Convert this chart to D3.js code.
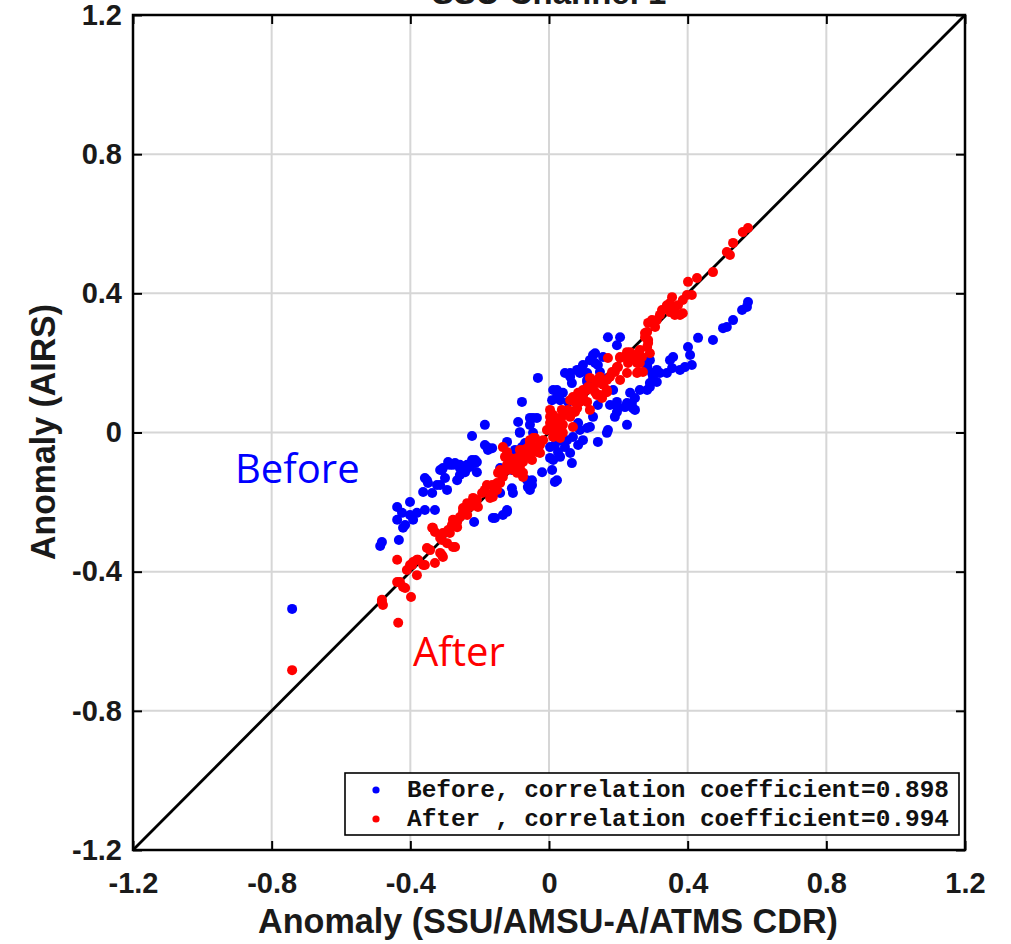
<!DOCTYPE html>
<html>
<head>
<meta charset="utf-8">
<script src="https://cdn.jsdelivr.net/npm/d3@7"></script>
<style>
  html, body { margin: 0; padding: 0; background: #fff; }
  svg { display: block; }
</style>
</head>
<body>
<svg id="chart" width="1011" height="944"></svg>
<script>
// ---------------- DATA ----------------
const titleText = "SSU Channel 1";
const xLabel = "Anomaly (SSU/AMSU-A/ATMS CDR)";
const yLabel = "Anomaly (AIRS)";
const tickValues = [-1.2, -0.8, -0.4, 0, 0.4, 0.8, 1.2];
const tickLabels = ["-1.2", "-0.8", "-0.4", "0", "0.4", "0.8", "1.2"];
const seriesNames = ["Before", "After"];
const legendLabels = ["Before, correlation coefficient=0.898", "After , correlation coefficient=0.994"];

// Before (blue) [x, y]
const beforePoints = [
[-0.741,-0.507],
[-0.482,-0.315],[-0.487,-0.326],[-0.433,-0.309],[-0.438,-0.214],[-0.438,-0.251],[-0.424,-0.231],
[-0.415,-0.266],[-0.421,-0.274],[-0.401,-0.200],[-0.401,-0.237],[-0.392,-0.251],[-0.381,-0.231],
[-0.358,-0.223],[-0.363,-0.171],[-0.349,-0.145],[-0.337,-0.174],[-0.329,-0.223],[-0.314,-0.151],
[-0.300,-0.131],[-0.294,-0.165],[-0.306,-0.102],[-0.286,-0.093],[-0.271,-0.088],[-0.265,-0.137],
[-0.257,-0.122],[-0.242,-0.114],[-0.228,-0.099],[-0.213,-0.088],[-0.208,-0.114],[-0.216,-0.257],
[-0.162,-0.246],[-0.133,-0.237],[-0.121,-0.223],[-0.104,-0.174],[-0.107,-0.160],[-0.049,-0.151],
[-0.055,-0.165],[-0.020,-0.114],[0.017,-0.142],[-0.063,-0.137],[-0.185,0.022],[-0.222,-0.010],
[-0.185,-0.036],[-0.176,-0.050],[-0.121,-0.027],[-0.084,-0.001],[-0.046,-0.001],[-0.055,0.022],
[-0.291,-0.085],[-0.257,-0.102],[-0.236,-0.093],[-0.222,-0.079],[-0.208,-0.085],[-0.309,-0.108],
[-0.352,-0.137],[-0.323,-0.151],
[0.170,0.274],[0.205,0.274],[0.196,0.251],[0.127,0.223],[0.156,0.217],[0.133,0.200],[0.098,0.194],
[0.081,0.180],[0.061,0.171],[0.110,0.171],[0.147,0.174],[0.170,0.157],[0.283,0.194],[0.297,0.171],
[0.311,0.180],[0.291,0.142],[0.262,0.122],[0.234,0.114],[0.225,0.085],[0.242,0.070],[0.199,0.070],
[0.190,0.045],[0.225,0.022],[0.170,0.007],[0.141,-0.027],[0.167,-0.001],[0.185,0.122],[0.196,0.088],
[0.141,0.079],[0.127,0.045],[0.110,0.013],[0.084,0.027],[0.098,-0.022],[0.084,-0.036],[0.069,-0.013],
[0.052,-0.022],[0.032,-0.022],[0.017,-0.036],[0.026,-0.056],[0.046,-0.042],[0.066,-0.088],[0.023,-0.137],
[0.003,-0.073],[0.009,-0.108],[-0.032,0.157],[0.012,0.122],[0.023,0.102],[0.009,0.093],[0.040,0.114],
[0.055,0.088],[-0.078,0.088],[-0.055,0.042],[-0.035,0.042],[-0.089,0.030],[-0.084,0.001],[-0.069,-0.030],
[-0.078,-0.042],[-0.098,-0.050],[-0.164,-0.045],[-0.213,-0.079],[-0.257,-0.093],[-0.141,-0.102],
[-0.107,-0.108],[-0.049,-0.137],[-0.061,-0.157],[-0.141,-0.174],[-0.121,-0.228],[-0.156,-0.246],
[0.574,0.375],[0.571,0.361],[0.557,0.352],[0.531,0.323],[0.513,0.303],[0.502,0.300],[0.473,0.266],
[0.430,0.272],[0.401,0.246],[0.407,0.223],[0.412,0.194],[0.392,0.188],[0.378,0.180],[0.358,0.217],
[0.349,0.208],[0.355,0.185],[0.340,0.171],[0.320,0.171],[0.300,0.160],[0.311,0.145],[0.291,0.131],
[0.283,0.122],[0.248,0.099],[0.239,0.085],[0.219,0.073],[0.248,0.065],[0.196,0.059],[0.176,0.079],
[0.118,0.208],[0.141,0.194],[0.089,0.171],[0.110,0.145],[0.066,0.142],[0.032,0.093],[0.291,0.208],
[0.283,0.188],[0.046,0.171],[0.061,0.160],[0.089,0.180],[0.133,0.228],[0.110,0.151],[0.023,0.122],
[0.089,0.007],[0.118,0.016],[0.061,-0.059],[0.032,-0.070],[0.003,-0.042],[0.012,-0.079],
[-0.179,-0.042],[-0.277,-0.093],[-0.242,-0.099],[-0.358,-0.131],[-0.314,-0.108],[-0.046,0.042]
];

// After (red) [x, y]
const afterPoints = [
[-0.741,-0.683],[-0.482,-0.487],[-0.479,-0.496],[-0.435,-0.547],[-0.438,-0.430],[-0.421,-0.444],
[-0.398,-0.473],[-0.482,-0.481],[-0.438,-0.366],[-0.430,-0.430],[-0.415,-0.447],[-0.410,-0.395],
[-0.401,-0.381],[-0.392,-0.372],[-0.381,-0.410],[-0.378,-0.366],[-0.363,-0.381],[-0.352,-0.332],
[-0.343,-0.338],[-0.337,-0.274],[-0.329,-0.286],[-0.314,-0.346],[-0.306,-0.358],[-0.309,-0.309],
[-0.294,-0.286],[-0.286,-0.289],[-0.271,-0.329],[-0.280,-0.266],[-0.265,-0.257],[-0.257,-0.243],
[-0.248,-0.228],[-0.236,-0.237],[-0.228,-0.214],[-0.219,-0.203],[-0.208,-0.194],[-0.205,-0.214],
[-0.179,-0.151],[-0.170,-0.188],[-0.162,-0.174],[-0.150,-0.165],[-0.141,-0.145],[-0.133,-0.128],
[-0.121,-0.108],[-0.112,-0.099],[-0.104,-0.088],[-0.092,-0.116],[-0.075,-0.128],[-0.084,-0.099],
[-0.133,-0.042],[-0.121,-0.056],[-0.092,-0.073],[-0.075,-0.050],[-0.055,-0.030],[-0.046,-0.016],
[-0.061,-0.070],[-0.141,-0.108],[-0.150,-0.145],[-0.185,-0.165],[-0.162,-0.185],[-0.248,-0.217],
[-0.277,-0.251],[-0.265,-0.272],[-0.291,-0.280],[-0.306,-0.289],[-0.314,-0.303],[-0.335,-0.274],
[-0.294,-0.318],[-0.277,-0.329],[-0.309,-0.352],[-0.381,-0.366],[-0.395,-0.381],[-0.358,-0.381],
[-0.329,-0.375],
[0.277,0.286],[0.286,0.257],[0.262,0.237],[0.291,0.228],[0.225,0.231],[0.205,0.214],[0.242,0.214],
[0.228,0.200],[0.262,0.200],[0.271,0.174],[0.225,0.171],[0.254,0.171],[0.196,0.188],[0.182,0.174],
[0.205,0.151],[0.167,0.151],[0.153,0.142],[0.138,0.151],[0.124,0.131],[0.167,0.116],[0.147,0.108],
[0.133,0.116],[0.110,0.122],[0.089,0.114],[0.069,0.102],[0.110,0.088],[0.089,0.088],[0.061,0.093],
[0.081,0.070],[0.055,0.065],[0.037,0.065],[0.118,0.065],[0.061,0.045],[0.037,0.045],[0.012,0.050],
[0.023,0.030],[0.040,0.022],[0.003,0.027],[-0.006,0.007],[0.012,0.007],[0.032,-0.001],[0.032,-0.016],
[-0.017,-0.022],[-0.040,-0.016],[-0.055,-0.022],[-0.026,-0.036],[-0.046,-0.042],[-0.063,-0.045],
[-0.035,-0.056],[-0.055,-0.065],[-0.078,-0.065],[-0.075,-0.085],[-0.098,-0.088],[-0.112,-0.073],
[-0.121,-0.093],[-0.127,-0.070],[-0.075,-0.116],[-0.147,-0.116],[-0.164,-0.151],[-0.193,-0.174],
[-0.219,-0.188],[-0.236,-0.203],
[0.574,0.588],[0.559,0.576],[0.531,0.545],[0.513,0.519],[0.522,0.510],[0.473,0.461],[0.427,0.444],
[0.401,0.433],[0.412,0.395],[0.398,0.395],[0.386,0.381],[0.372,0.366],[0.363,0.358],[0.355,0.389],
[0.349,0.372],[0.340,0.366],[0.386,0.343],[0.378,0.338],[0.363,0.338],[0.349,0.346],[0.326,0.352],
[0.320,0.338],[0.311,0.323],[0.297,0.323],[0.286,0.315],[0.306,0.303],[0.283,0.289],[0.277,0.274],
[0.286,0.266],[0.283,0.246],[0.268,0.217],[0.257,0.228],[0.234,0.231],[0.225,0.214],[0.254,0.200],
[0.257,0.174],[0.205,0.217],[0.199,0.188],[0.170,0.214],[0.190,0.174],[0.176,0.160],[0.147,0.160],
[0.138,0.142],[0.156,0.137],[0.167,0.122],[0.118,0.157],[0.112,0.131],[0.098,0.122],[0.084,0.114],
[0.095,0.093],[0.075,0.088],[0.075,0.059],[0.138,0.108],[0.153,0.099],
[-0.084,-0.050],[-0.035,-0.042],[-0.026,-0.059],[-0.049,-0.079],[-0.092,-0.093],[-0.104,-0.108],
[-0.136,-0.122],[0.003,0.045],[0.023,0.016],[0.040,-0.001],[0.012,-0.013],[0.081,0.085],[0.098,0.102],
[0.069,0.016],[0.003,0.065]
];

const seriesColors = ["#0000ff", "#ff0000"];

// ---------------- CHART ----------------
const svg = d3.select("#chart");
const pL = 133, pR = 965, pT = 15, pB = 850;
const x = d3.scaleLinear().domain([-1.2, 1.2]).range([pL, pR]);
const y = d3.scaleLinear().domain([-1.2, 1.2]).range([pB, pT]);
const fmt = d => tickLabels[tickValues.indexOf(d)];

// plot background
svg.append("rect").attr("x", pL).attr("y", pT)
  .attr("width", pR - pL).attr("height", pB - pT).attr("fill", "#fff");

// grid
const innerTicks = tickValues.slice(1, -1);
const grid = svg.append("g").attr("stroke", "#d6d6d6").attr("stroke-width", 2);
grid.selectAll(".gx").data(innerTicks).join("line").attr("class", "gx")
  .attr("x1", d => x(d)).attr("x2", d => x(d)).attr("y1", pT).attr("y2", pB);
grid.selectAll(".gy").data(innerTicks).join("line").attr("class", "gy")
  .attr("y1", d => y(d)).attr("y2", d => y(d)).attr("x1", pL).attr("x2", pR);

// diagonal 1:1 line
svg.append("line")
  .attr("x1", x(-1.2)).attr("y1", y(-1.2)).attr("x2", x(1.2)).attr("y2", y(1.2))
  .attr("stroke", "#000").attr("stroke-width", 2.8);

// points
const dots = svg.append("g");
[beforePoints, afterPoints].forEach((pts, i) => {
  dots.append("g").attr("fill", seriesColors[i])
    .selectAll("circle").data(pts).join("circle")
    .attr("cx", d => x(d[0])).attr("cy", d => y(d[1])).attr("r", 5);
});

// axes (ticks inward)
const tickFont = "'Liberation Sans', Arial, sans-serif";
const axB = svg.append("g").attr("transform", `translate(0,${pB})`)
  .call(d3.axisBottom(x).tickValues(tickValues).tickFormat(fmt).tickSize(-9).tickPadding(22));
const axL = svg.append("g").attr("transform", `translate(${pL},0)`)
  .call(d3.axisLeft(y).tickValues(tickValues).tickFormat(fmt).tickSize(-9).tickPadding(11));
const axT = svg.append("g").attr("transform", `translate(0,${pT})`)
  .call(d3.axisTop(x).tickValues(tickValues).tickFormat("").tickSize(-9));
const axR = svg.append("g").attr("transform", `translate(${pR},0)`)
  .call(d3.axisRight(y).tickValues(tickValues).tickFormat("").tickSize(-9));
[axB, axL, axT, axR].forEach(g => {
  g.select(".domain").remove();
  g.selectAll(".tick line").attr("stroke", "#000").attr("stroke-width", 2);
  g.selectAll(".tick text").attr("fill", "#1a1a1a")
    .style("font-family", tickFont).style("font-weight", "bold").style("font-size", "29px");
});

// border
svg.append("rect").attr("x", pL).attr("y", pT)
  .attr("width", pR - pL).attr("height", pB - pT)
  .attr("fill", "none").attr("stroke", "#000").attr("stroke-width", 2.5);

// title (cut off at top, as in the reference)
svg.append("text").attr("x", (pL + pR) / 2).attr("y", 4)
  .attr("text-anchor", "middle").attr("fill", "#1a1a1a")
  .style("font-family", tickFont).style("font-weight", "bold").style("font-size", "33px")
  .text(titleText);

// axis labels
svg.append("text").attr("x", 548).attr("y", 933)
  .attr("text-anchor", "middle").attr("fill", "#1a1a1a")
  .attr("textLength", 580).attr("lengthAdjust", "spacingAndGlyphs")
  .style("font-family", tickFont).style("font-weight", "bold").style("font-size", "35px")
  .text(xLabel);
svg.append("text").attr("transform", "translate(55,432) rotate(-90)")
  .attr("text-anchor", "middle").attr("fill", "#1a1a1a")
  .attr("textLength", 256).attr("lengthAdjust", "spacingAndGlyphs")
  .style("font-family", tickFont).style("font-weight", "bold").style("font-size", "35px")
  .text(yLabel);

// annotations
svg.append("text").attr("x", 235).attr("y", 483).attr("fill", "#0000ff")
  .style("font-family", "'Open Sans', sans-serif").style("font-size", "40px").text(seriesNames[0]);
svg.append("text").attr("x", 413).attr("y", 666).attr("fill", "#ff0000")
  .style("font-family", "'Open Sans', sans-serif").style("font-size", "40px").text(seriesNames[1]);

// legend
const lg = svg.append("g");
lg.append("rect").attr("x", 345).attr("y", 773).attr("width", 614).attr("height", 62)
  .attr("fill", "#fff").attr("stroke", "#000").attr("stroke-width", 1.6);
legendLabels.forEach((t, i) => {
  const cy = 790 + i * 29;
  lg.append("circle").attr("cx", 376).attr("cy", cy).attr("r", 3.6).attr("fill", seriesColors[i]);
  lg.append("text").attr("x", 407).attr("y", cy + 7).attr("fill", "#111")
    .attr("textLength", 542).attr("lengthAdjust", "spacingAndGlyphs")
    .style("font-family", "'Liberation Mono', 'Courier New', monospace")
    .style("font-weight", "bold").style("font-size", "24px")
    .style("white-space", "pre")
    .text(t);
});
</script>
</body>
</html>
